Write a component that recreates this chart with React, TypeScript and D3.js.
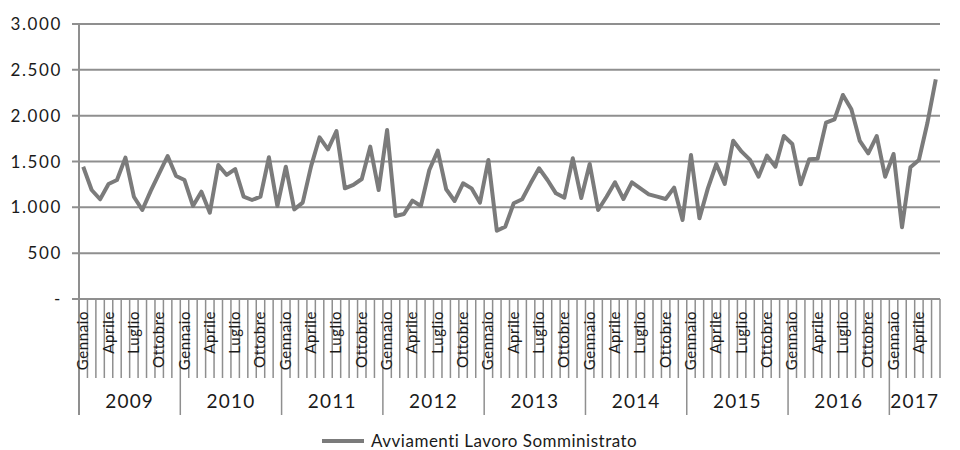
import React from 'react';
import * as d3 from 'd3';

const years = ['2009', '2010', '2011', '2012', '2013', '2014', '2015', '2016', '2017'];
const months = ['Gennaio', 'Febbraio', 'Marzo', 'Aprile', 'Maggio', 'Giugno', 'Luglio', 'Agosto', 'Settembre', 'Ottobre', 'Novembre', 'Dicembre'];
const monthsPerYear = [12, 12, 12, 12, 12, 12, 12, 12, 6];

const avviamenti = [
  1443, 1189, 1088, 1255, 1298, 1542, 1116, 971, 1180, 1370, 1560, 1342,
  1298, 1015, 1171, 942, 1462, 1353, 1418, 1116, 1080, 1116, 1546, 1015,
  1443, 978, 1051, 1450, 1764, 1633, 1833, 1207, 1244, 1309, 1662, 1189,
  1844, 905, 927, 1073, 1015, 1407, 1618, 1197, 1069, 1262, 1207, 1051,
  1517, 745, 789, 1044, 1088, 1262, 1426, 1298, 1153, 1106, 1535, 1102,
  1473, 971, 1116, 1273, 1091, 1273, 1207, 1142, 1116, 1091, 1215, 862,
  1571, 880, 1207, 1473, 1255, 1727, 1607, 1517, 1334, 1564, 1443, 1778,
  1691, 1251, 1524, 1530, 1924, 1960, 2226, 2069, 1724, 1589, 1778, 1334,
  1582, 782, 1437, 1517, 1917, 2397,
];
const yTicks = [0, 500, 1000, 1500, 2000, 2500, 3000];
const seriesName = 'Avviamenti Lavoro Somministrato';

const font = 'Lato, "Open Sans", sans-serif';
const gridColor = '#8f8f8f';
const lineColor = '#7b7b7b';

// categories: one per month, with the year it belongs to
const cats = years.flatMap((yr, yi) =>
  d3.range(monthsPerYear[yi]).map(m => ({ key: `${yr}-${m}`, year: yr, month: m }))
);

const fmt = (v: number) => (v === 0 ? '-' : d3.format(',')(v).replace(/,/g, '.'));

export default function App() {
  const left = 79, right = 940, top = 24, bottom = 299;

  const x = d3.scaleBand().domain(cats.map(c => c.key)).range([left, right]).padding(0);
  const y = d3.scaleLinear().domain([0, 3000]).range([bottom, top]);
  const bw = x.bandwidth();
  const cx = (i: number) => (x(cats[i].key) as number) + bw / 2;

  const line = d3.line<number>()
    .x((_, i) => cx(i))
    .y(d => y(d));

  // start index of each year in the category list
  const yearStart = years.map((_, yi) => d3.sum(monthsPerYear.slice(0, yi)));

  return (
    <svg width={960} height={450} style={{ position: 'absolute', left: 0, top: 0, background: '#fff' }}>
      {/* gridlines + y ticks */}
      {yTicks.map(t => (
        <g key={t}>
          <line x1={left - 7} x2={right} y1={y(t)} y2={y(t)} stroke={gridColor} strokeWidth={2} />
          <text x={62} y={y(t)} dy="0.36em" textAnchor="end" fontFamily={font} fontSize={17}
            letterSpacing={1.6} fill="#1a1a1a">{fmt(t)}</text>
        </g>
      ))}

      {/* month tick marks */}
      {d3.range(cats.length + 1).map(i => {
        const xx = i < cats.length ? (x(cats[i].key) as number) : right;
        const isYear = i > 0 && i < cats.length && cats[i].month === 0;
        return <line key={i} x1={xx} x2={xx} y1={bottom} y2={isYear ? 415 : 378}
          stroke={gridColor} strokeWidth={1.5} />;
      })}
      {/* y axis */}
      <line x1={left} x2={left} y1={top} y2={415} stroke={gridColor} strokeWidth={2} />

      {/* month labels */}
      {cats.map((c, i) => c.month % 3 === 0 ? (
        <text key={c.key} transform={`translate(${cx(i) + 5},311) rotate(-90)`} textAnchor="end"
          fontFamily={font} fontSize={15} letterSpacing={0.6} fill="#1a1a1a">{months[c.month]}</text>
      ) : null)}

      {/* year labels */}
      {years.map((yr, yi) => {
        const a = x(cats[yearStart[yi]].key) as number;
        const b = a + bw * monthsPerYear[yi];
        return <text key={yr} x={(a + b) / 2} y={408} textAnchor="middle" fontFamily={font}
          fontSize={19} letterSpacing={1.2} fill="#1a1a1a">{yr}</text>;
      })}

      {/* series */}
      <path d={line(avviamenti) ?? ''} fill="none" stroke={lineColor} strokeWidth={4}
        strokeLinejoin="round" />

      {/* legend */}
      <line x1={322} x2={364} y1={441} y2={441} stroke={lineColor} strokeWidth={4} />
      <text x={371} y={447} fontFamily={font} fontSize={17} letterSpacing={0.5} fill="#1a1a1a">{seriesName}</text>
    </svg>
  );
}
